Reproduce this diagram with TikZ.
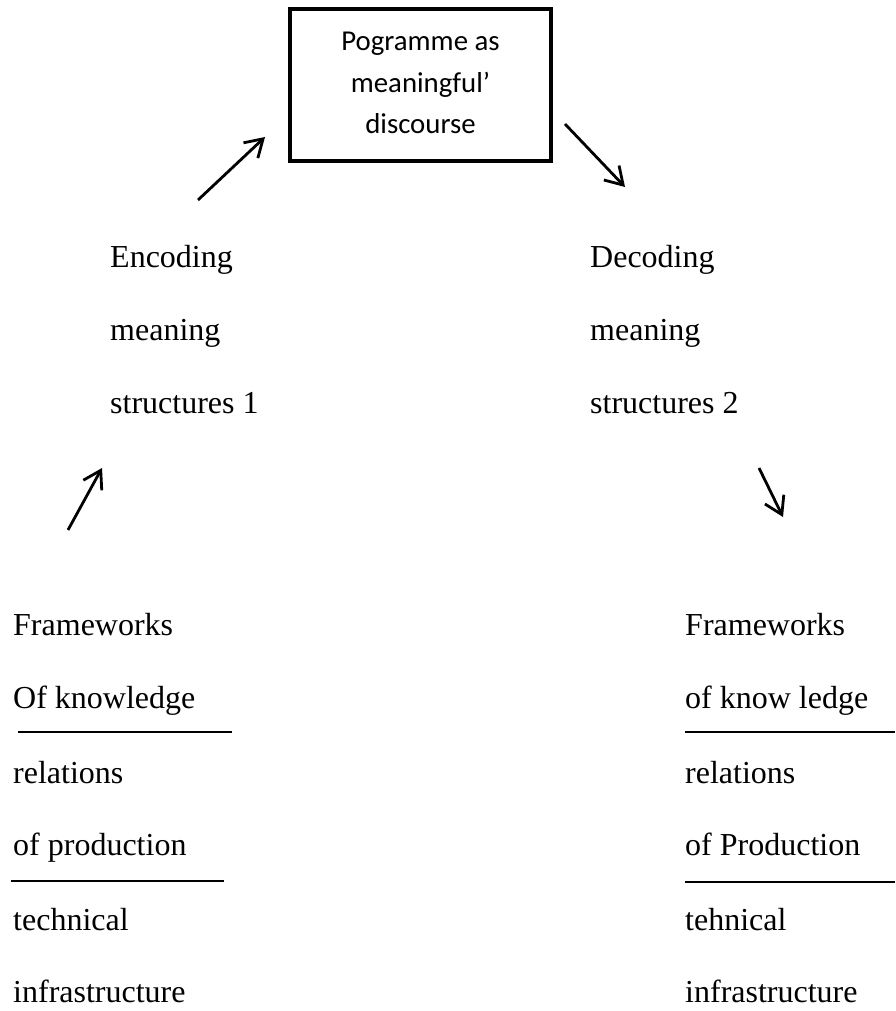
\documentclass[tikz,border=0pt]{standalone}
\usepackage{fontspec}
\setmainfont{Liberation Serif}
\newfontfamily\boxfont{Carlito}
\usetikzlibrary{arrows.meta}
\tikzset{
  lbl/.style={anchor=base west, inner sep=0pt, font=\fontsize{32}{38}\selectfont},
  progbox/.style={draw, line width=4.2pt, minimum width=261pt, minimum height=152pt, inner sep=0pt},
  progtext/.style={align=center, inner sep=0pt, font=\boxfont\fontsize{28.8}{41.5}\selectfont},
  arr/.style={line width=2.8pt, -{Straight Barb[length=17pt,width=21pt,line width=2.8pt]}},
  rule/.style={line width=2.4pt}
}
\begin{document}
\begin{tikzpicture}[x=1pt,y=-1pt]
\useasboundingbox (0,0) rectangle (895,1011);
% box
\node[progbox] (prog) at (420.5,85) {};
\node[progtext] (progt) at (420.5,83) {Pogramme as\\meaningful’\\discourse};
% middle labels
\node[lbl] (enc1) at (110,267) {Encoding};
\node[lbl] (enc2) at (110,340) {meaning};
\node[lbl] (enc3) at (110,413) {structures 1};
\node[lbl] (dec1) at (590,267) {Decoding};
\node[lbl] (dec2) at (590,340) {meaning};
\node[lbl] (dec3) at (590,413) {structures 2};
% left bottom
\node[lbl] (l1) at (13,635) {Frameworks};
\node[lbl] (l2) at (13,708) {Of knowledge};
\node[lbl] (l3) at (13,783) {relations};
\node[lbl] (l4) at (13,855) {of production};
\node[lbl] (l5) at (13,930) {technical};
\node[lbl] (l6) at (13,1002) {infrastructure};
% right bottom
\node[lbl] (r1) at (685,635) {Frameworks};
\node[lbl] (r2) at (685,708) {of know ledge};
\node[lbl] (r3) at (685,783) {relations};
\node[lbl] (r4) at (685,855) {of Production};
\node[lbl] (r5) at (685,930) {tehnical};
\node[lbl] (r6) at (685,1002) {infrastructure};
% underlines
\coordinate (la1) at (18,732);
\coordinate (la2) at (232,732);
\coordinate (lb1) at (11,881);
\coordinate (lb2) at (224,881);
\coordinate (ra1) at (685,732);
\coordinate (ra2) at (895,732);
\coordinate (rb1) at (685,882);
\coordinate (rb2) at (895,882);
\draw[rule] (la1) -- (la2);
\draw[rule] (lb1) -- (lb2);
\draw[rule] (ra1) -- (ra2);
\draw[rule] (rb1) -- (rb2);
% arrows
\coordinate (a1s) at (198,200);
\coordinate (a1e) at (265,137);
\coordinate (a2s) at (565,124);
\coordinate (a2e) at (625,187);
\coordinate (a3s) at (68,530);
\coordinate (a3e) at (102,468);
\coordinate (a4s) at (759,468);
\coordinate (a4e) at (783,517);
\draw[arr] (a1s) -- (a1e);
\draw[arr] (a2s) -- (a2e);
\draw[arr] (a3s) -- (a3e);
\draw[arr] (a4s) -- (a4e);
\end{tikzpicture}
\end{document}
